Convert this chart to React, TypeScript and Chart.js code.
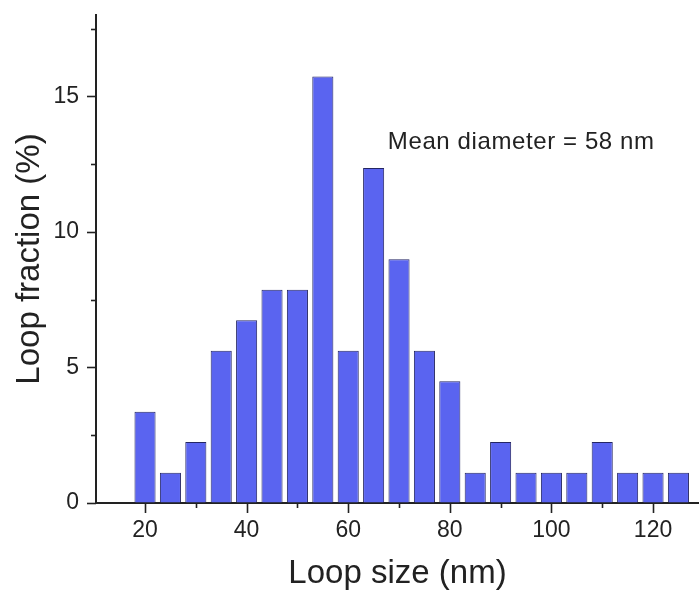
import React, { useEffect, useRef } from 'react';
import { Chart, registerables } from 'chart.js';

Chart.register(...registerables);

// ---- data ----
const binCenters = [20, 25, 30, 35, 40, 45, 50, 55, 60, 65, 70, 75, 80, 85, 90, 95, 100, 105, 110, 115, 120, 125];
const loopFraction = [3.37, 1.12, 2.25, 5.62, 6.74, 7.87, 7.87, 15.73, 5.62, 12.36, 8.99, 5.62, 4.49, 1.12, 2.25, 1.12, 1.12, 1.12, 2.25, 1.12, 1.12, 1.12];
const yMajorTicks = [0, 5, 10, 15];
const yMinorTicks = [2.5, 7.5, 12.5, 17.5];
const xMajorTicks = [20, 40, 60, 80, 100, 120];
const xMinorTicks = [30, 50, 70, 90, 110];
const xRange = [10.35, 129.05];
const yRange = [0, 18];
const xTitle = 'Loop size (nm)';
const yTitle = 'Loop fraction (%)';
const annotationText = 'Mean diameter = 58 nm';
const annotationAt = { x: 67.8, y: 13.05 };

const FONT = "'Liberation Sans', Arial, Helvetica, sans-serif";
const INK = '#222222';

const axisDecor = {
  id: 'axisDecor',
  afterDraw(chart: any) {
    const { ctx, chartArea, scales } = chart;
    const xs = scales.x;
    const ys = scales.y;
    ctx.save();
    ctx.strokeStyle = INK;
    ctx.lineWidth = 1.6;
    const left = chartArea.left;
    const bottom = chartArea.bottom;
    const tick = (x1: number, y1: number, x2: number, y2: number) => {
      ctx.beginPath();
      ctx.moveTo(x1, y1);
      ctx.lineTo(x2, y2);
      ctx.stroke();
    };
    yMajorTicks.forEach((v) => {
      const p = Math.round(ys.getPixelForValue(v)) + 0.5;
      tick(left - 9, p, left, p);
    });
    yMinorTicks.forEach((v) => {
      const p = Math.round(ys.getPixelForValue(v)) + 0.5;
      tick(left - 5, p, left, p);
    });
    xMajorTicks.forEach((v) => {
      const p = Math.round(xs.getPixelForValue(v)) + 0.5;
      tick(p, bottom, p, bottom + 10);
    });
    xMinorTicks.forEach((v) => {
      const p = Math.round(xs.getPixelForValue(v)) + 0.5;
      tick(p, bottom, p, bottom + 5);
    });
    // annotation
    ctx.fillStyle = INK;
    ctx.font = `24px ${FONT}`;
    try {
      (ctx as any).letterSpacing = '0.6px';
    } catch (e) {}
    ctx.textAlign = 'left';
    ctx.textBaseline = 'alphabetic';
    ctx.fillText(annotationText, xs.getPixelForValue(annotationAt.x), ys.getPixelForValue(annotationAt.y));
    ctx.restore();
  },
};

export default function App() {
  const ref = useRef<HTMLCanvasElement | null>(null);

  useEffect(() => {
    const canvas = ref.current;
    if (!canvas) return;
    const chart = new Chart(canvas, {
      type: 'bar',
      data: {
        datasets: [
          {
            data: binCenters.map((x, i) => ({ x, y: loopFraction[i] })),
            backgroundColor: 'rgb(90, 100, 240)',
            borderColor: 'rgb(36, 38, 100)',
            borderWidth: 1,
            barPercentage: 0.83,
            categoryPercentage: 1,
          } as any,
        ],
      },
      options: {
        animation: false,
        responsive: false,
        maintainAspectRatio: false,
        devicePixelRatio: 1,
        layout: { padding: { top: 15, right: 0, left: 0, bottom: 0 } },
        plugins: { legend: { display: false }, tooltip: { enabled: false } },
        scales: {
          x: {
            type: 'linear',
            min: xRange[0],
            max: xRange[1],
            offset: false,
            afterBuildTicks: (s: any) => {
              s.ticks = xMajorTicks.map((v) => ({ value: v }));
            },
            afterFit: (s: any) => {
              s.height = 95;
              s.paddingLeft = 0;
              s.paddingRight = 0;
            },
            grid: {
              display: true,
              drawOnChartArea: false,
              drawTicks: true,
              tickLength: 8,
              tickColor: 'rgba(0,0,0,0)',
              color: 'rgba(0,0,0,0)',
              offset: false,
            },
            border: { display: true, color: INK, width: 2 },
            ticks: {
              color: INK,
              font: { family: FONT, size: 23 },
              padding: 6,
              maxRotation: 0,
              autoSkip: false,
              callback: (v: any) => String(v),
            },
            title: {
              display: true,
              text: xTitle,
              color: INK,
              font: { family: FONT, size: 33 },
              padding: { top: 0, bottom: 4 },
            },
          },
          y: {
            type: 'linear',
            min: yRange[0],
            max: yRange[1],
            afterBuildTicks: (s: any) => {
              s.ticks = yMajorTicks.map((v) => ({ value: v }));
            },
            afterFit: (s: any) => {
              s.width = 96;
              s.paddingTop = 0;
              s.paddingBottom = 0;
            },
            grid: {
              display: true,
              drawOnChartArea: false,
              drawTicks: true,
              tickLength: 8,
              tickColor: 'rgba(0,0,0,0)',
              color: 'rgba(0,0,0,0)',
            },
            border: { display: true, color: INK, width: 2 },
            ticks: {
              color: INK,
              font: { family: FONT, size: 23 },
              padding: 9,
              autoSkip: false,
              callback: (v: any) => String(v),
            },
            title: {
              display: true,
              text: yTitle,
              color: INK,
              font: { family: FONT, size: 33 },
              padding: { top: 10, bottom: 0 },
            },
          },
        },
      },
      plugins: [axisDecor],
    });
    return () => chart.destroy();
  }, []);

  return (
    <div style={{ position: 'fixed', left: 0, top: 0, width: 699, height: 598, background: '#ffffff' }}>
      <canvas ref={ref} width={699} height={598} style={{ display: 'block', width: 699, height: 598 }} />
    </div>
  );
}
